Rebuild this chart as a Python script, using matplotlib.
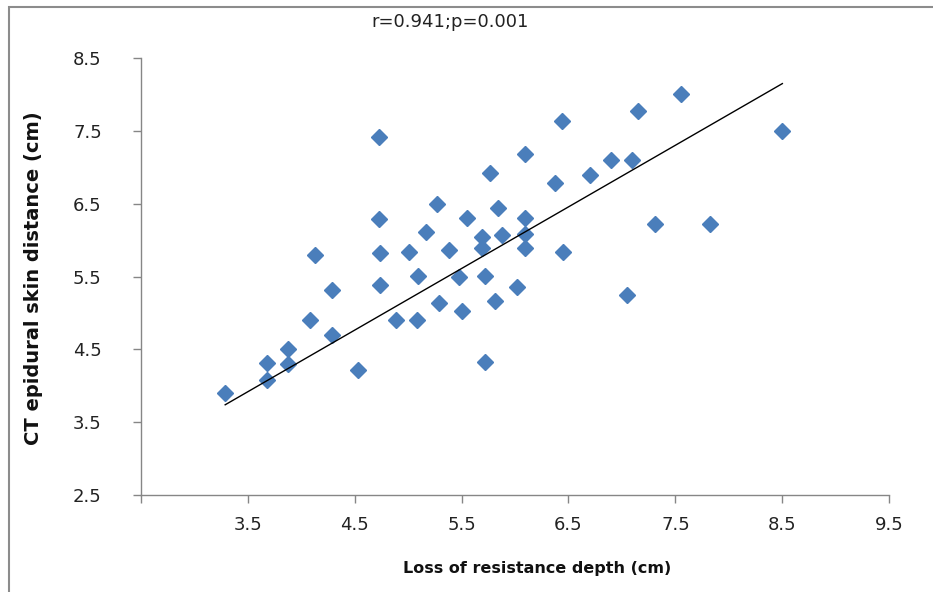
import numpy as np
import matplotlib
matplotlib.use("Agg")
import matplotlib.pyplot as plt
from matplotlib.patches import Rectangle

# Dati
loss_depth = [3.29, 3.68, 3.68, 3.88, 3.88, 4.08, 4.13, 4.29, 4.29, 4.53,
              4.73, 4.73, 4.74, 4.74, 4.89, 5.01, 5.09, 5.08, 5.17, 5.27,
              5.29, 5.38, 5.48, 5.50, 5.55, 5.69, 5.69, 5.72, 5.72, 5.77,
              5.84, 5.81, 5.88, 6.02, 6.09, 6.09, 6.09, 6.09, 6.37, 6.44,
              6.45, 6.70, 6.90, 7.09, 7.05, 7.15, 7.31, 7.55, 7.82, 8.50]
ct_distance = [3.90, 4.08, 4.31, 4.50, 4.30, 4.90, 5.80, 5.31, 4.70, 4.22,
               7.42, 6.29, 5.82, 5.38, 4.90, 5.84, 5.51, 4.90, 6.11, 6.50,
               5.14, 5.87, 5.50, 5.03, 6.31, 6.05, 5.90, 5.51, 4.33, 6.92,
               6.45, 5.16, 6.07, 5.36, 7.19, 6.31, 6.09, 5.90, 6.78, 7.64,
               5.84, 6.90, 7.10, 7.10, 5.25, 7.77, 6.22, 8.01, 6.22, 7.50]

# Linea di tendenza come appare nel grafico (pendenza, intercetta)
trend_slope = 0.847
trend_intercept = 0.953

x_ticks = [2.5, 3.5, 4.5, 5.5, 6.5, 7.5, 8.5, 9.5]
x_tick_labels = ["", "3.5", "4.5", "5.5", "6.5", "7.5", "8.5", "9.5"]
y_ticks = [2.5, 3.5, 4.5, 5.5, 6.5, 7.5, 8.5]

plt.rcParams['font.family'] = ['DejaVu Sans']

W, H = 933, 592
fig = plt.figure(figsize=(W / 100, H / 100), dpi=100)
ax = fig.add_axes([140.7 / W, (H - 495) / H, (889.3 - 140.7) / W, (495 - 58.3) / H])

x = np.array(loss_depth)
y = np.array(ct_distance)

xs = np.array([x.min(), x.max()])
ax.plot(xs, trend_slope * xs + trend_intercept, color="black", linewidth=1.0, zorder=3)

ax.plot(x, y, linestyle="none", marker="D", markersize=8.5,
        color="#4A7EBB", markeredgecolor="#4A7EBB", zorder=2)

ax.set_xlim(2.5, 9.5)
ax.set_ylim(2.5, 8.5)
ax.set_xticks(x_ticks)
ax.set_xticklabels(x_tick_labels)
ax.set_yticks(y_ticks)
ax.set_yticklabels([f"{v:.1f}" for v in y_ticks])

for s in ["top", "right"]:
    ax.spines[s].set_visible(False)
for s in ["left", "bottom"]:
    ax.spines[s].set_color("#868686")
    ax.spines[s].set_linewidth(1.0)
ax.tick_params(axis="both", direction="out", length=6, width=1.0,
               color="#868686", labelsize=13, labelcolor="#222222")
ax.tick_params(axis="x", pad=9)
ax.tick_params(axis="y", pad=22)

fig.text(537 / W, 1 - 568 / H, "Loss of resistance depth (cm)", ha="center",
         va="center", fontsize=11.5, fontweight="bold", color="#111111")
fig.text(34 / W, 1 - 278 / H, "CT epidural skin distance (cm)", ha="center",
         va="center", rotation=90, fontsize=14, fontweight="bold", color="#111111")
fig.text(450 / W, 1 - 22 / H, "r=0.941;p=0.001", ha="center", va="center",
         fontsize=13, color="#222222")

# Cornice esterna
fig.patches.append(Rectangle((9 / W, -0.1), 1.2, 1 - 7 / H + 0.1,
                             transform=fig.transFigure, fill=False,
                             edgecolor="#8c8c8c", linewidth=1.5))

fig.savefig("out.png", dpi=100)
